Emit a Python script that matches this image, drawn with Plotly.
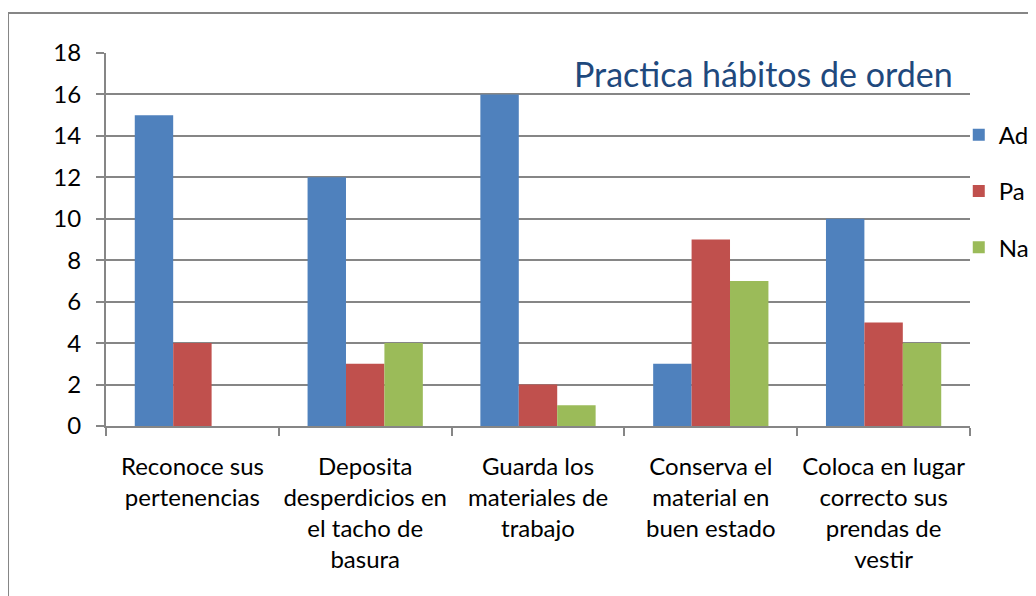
import plotly.graph_objects as go

# categorías y valores
categorias = ["Reconoce sus<br>pertenencias",
              "Deposita<br>desperdicios en<br>el tacho de<br>basura",
              "Guarda los<br>materiales de<br>trabajo",
              "Conserva el<br>material en<br>buen estado",
              "Coloca en lugar<br>correcto sus<br>prendas de<br>vestir"]
ad = [15, 12, 16, 3, 10]
pa = [4, 3, 2, 9, 5]
na = [0, 4, 1, 7, 4]

series = [("Ad", ad, "#4F81BD"), ("Pa", pa, "#C0504D"), ("Na", na, "#9BBB59")]
FONT = "Lato"
GRIS = "#868686"

fig = go.Figure()
for i, (nombre, vals, color) in enumerate(series):
    fig.add_trace(go.Bar(x=categorias, y=vals, name=nombre, marker_color=color,
                         marker_line_width=0, legendgroup=nombre))

# la página tiene 8px de margen, así que se compensa aquí
fig.update_layout(
    width=1036, height=596,
    margin=dict(l=98, r=74, t=45, b=178, autoexpand=False),
    plot_bgcolor="white", paper_bgcolor="white",
    barmode="group", bargap=0.333, bargroupgap=0,
    font=dict(family=FONT, size=24, color="black"),
    showlegend=True,
    legend=dict(x=0.987, y=0.84, xanchor="left", yanchor="top",
                font=dict(size=24), tracegroupgap=22, itemwidth=30,
                bgcolor="rgba(0,0,0,0)"),
    xaxis=dict(showline=True, linecolor=GRIS, linewidth=2, tickangle=0,
               ticks="outside", tickson="boundaries", ticklen=8,
               tickcolor=GRIS, tickwidth=2, ticklabelstandoff=18),
    yaxis=dict(range=[0, 18], dtick=2, showgrid=True, gridcolor=GRIS,
               gridwidth=1.5, showline=True, linecolor=GRIS, linewidth=2,
               ticks="outside", ticklen=8, tickcolor=GRIS, tickwidth=2,
               ticklabelstandoff=10, zeroline=False),
    annotations=[dict(text="Practica hábitos de orden", xref="paper", yref="paper",
                      x=0.983, y=0.945, xanchor="right", yanchor="middle",
                      showarrow=False, font=dict(size=34, color="#1F497D", family=FONT))],
    shapes=[dict(type="rect", xref="paper", yref="paper",
                 x0=-0.1134, x1=1.1, y0=-0.5, y1=1.107,
                 line=dict(color=GRIS, width=2), layer="below")],
)

fig.write_html("out.html")
